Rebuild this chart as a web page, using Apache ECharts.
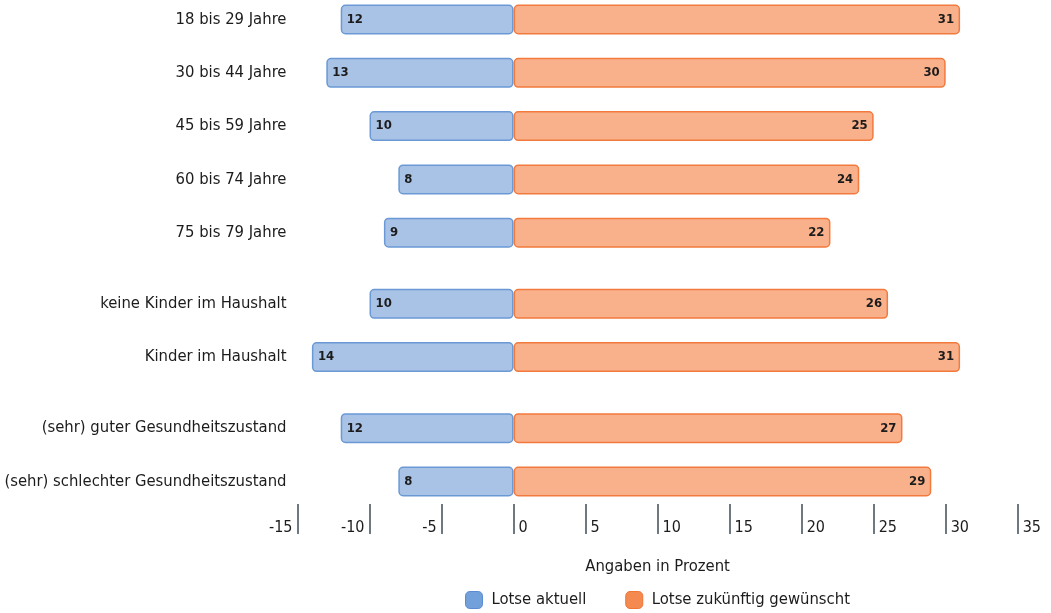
<!DOCTYPE html>
<html>
<head>
<meta charset="utf-8">
<script src="https://cdn.jsdelivr.net/npm/echarts@6/dist/echarts.min.js"></script>
<style>
  html, body { margin: 0; padding: 0; background: #ffffff; }
  #chart { width: 1051px; height: 613px; }
</style>
</head>
<body>
<div id="chart"></div>
<script>
// Row groups, drawn top to bottom with a small gap between groups
const ageGroups = ['18 bis 29 Jahre', '30 bis 44 Jahre', '45 bis 59 Jahre', '60 bis 74 Jahre', '75 bis 79 Jahre'];
const householdGroups = ['keine Kinder im Haushalt', 'Kinder im Haushalt'];
const healthGroups = ['(sehr) guter Gesundheitszustand', '(sehr) schlechter Gesundheitszustand'];

// Percentages per row (same order as the rows above)
const lotseAktuell = [12, 13, 10, 8, 9, 10, 14, 12, 8];
const lotseZukuenftig = [31, 30, 25, 24, 22, 26, 31, 27, 29];

// Value axis range
const axisMin = -15;
const axisMax = 35;
const axisStep = 5;

const FONT = '"DejaVu Sans Condensed", "Liberation Sans Narrow", "Noto Sans", sans-serif';
const TEXT = '#1c1c1c';

// Each row takes three category slots; one extra slot separates the groups.
const SPACER = '__spacer';
const slots = [];
const rowSlot = [];
[ageGroups, householdGroups, healthGroups].forEach((group, gi) => {
  if (gi > 0) slots.push(SPACER + slots.length);
  group.forEach(name => {
    if (slots.length > 0) {
      slots.push(SPACER + slots.length);
      slots.push(SPACER + slots.length);
    }
    rowSlot.push(slots.length);
    slots.push(name);
  });
});

function toSlots(values, sign) {
  const out = slots.map(() => '-');
  values.forEach((v, i) => { out[rowSlot[i]] = sign * v; });
  return out;
}

const chart = echarts.init(document.getElementById('chart'), null, { renderer: 'canvas' });

const sharedX = {
  type: 'value',
  min: axisMin,
  max: axisMax,
  interval: axisStep,
  position: 'bottom',
  offset: 13.6,
  axisLine: { show: false },
  splitLine: { show: false }
};

chart.setOption({
  animation: false,
  textStyle: { fontFamily: FONT },
  grid: { left: 297.5, right: 33.3, top: 10.6, height: 479.8 },
  xAxis: [
    Object.assign({}, sharedX, {
      axisTick: { show: true, inside: false, length: 30, lineStyle: { color: '#6d7880', width: 2 } },
      axisLabel: {
        formatter: v => (v >= 0 ? String(v) : ''),
        align: 'left',
        verticalAlign: 'middle',
        margin: 24,
        padding: [0, 0, 0, 5],
        fontSize: 16,
        color: TEXT,
        fontFamily: FONT
      },
      name: 'Angaben in Prozent',
      nameLocation: 'middle',
      nameGap: 54,
      nameTextStyle: { fontSize: 16.5, color: TEXT, fontFamily: FONT }
    }),
    Object.assign({}, sharedX, {
      axisTick: { show: false },
      axisLabel: {
        formatter: v => (v < 0 ? String(v) : ''),
        align: 'right',
        verticalAlign: 'middle',
        margin: 24,
        padding: [0, 5, 0, 0],
        fontSize: 16,
        color: TEXT,
        fontFamily: FONT
      }
    })
  ],
  yAxis: {
    type: 'category',
    inverse: true,
    data: slots,
    axisLine: { show: false },
    axisTick: { show: false },
    splitLine: { show: false },
    axisLabel: {
      interval: 0,
      margin: 11,
      fontSize: 16.5,
      color: TEXT,
      fontFamily: FONT,
      formatter: v => (v.indexOf(SPACER) === 0 ? '' : v)
    }
  },
  legend: {
    left: 465,
    top: 591,
    padding: 0,
    itemWidth: 17,
    itemHeight: 17,
    itemGap: 39,
    icon: 'roundRect',
    textStyle: { fontSize: 16.5, color: TEXT, fontFamily: FONT, padding: [0, 0, 0, 4] },
    data: [
      { name: 'Lotse aktuell', itemStyle: { color: '#72a0da', borderColor: '#5a8bcf', borderWidth: 1 } },
      { name: 'Lotse zukünftig gewünscht', itemStyle: { color: '#f48a50', borderColor: '#ef7536', borderWidth: 1 } }
    ]
  },
  series: [
    {
      name: 'Lotse aktuell',
      type: 'bar',
      stack: 'rows',
      xAxisIndex: 0,
      barWidth: 30,
      clip: false,
      data: toSlots(lotseAktuell, -1),
      itemStyle: { color: '#a9c3e6', borderColor: '#6a99d6', borderWidth: 1.5, borderRadius: 4 },
      label: {
        show: true,
        position: 'insideLeft',
        distance: 6,
        formatter: p => Math.abs(p.value),
        fontSize: 13,
        fontWeight: 'bold',
        color: TEXT,
        fontFamily: FONT
      }
    },
    {
      name: 'Lotse zukünftig gewünscht',
      type: 'bar',
      stack: 'rows',
      xAxisIndex: 0,
      barWidth: 30,
      clip: false,
      data: toSlots(lotseZukuenftig, 1),
      itemStyle: { color: '#f9b18b', borderColor: '#f27a3e', borderWidth: 1.5, borderRadius: 4 },
      label: {
        show: true,
        position: 'insideRight',
        distance: 6,
        formatter: p => p.value,
        fontSize: 13,
        fontWeight: 'bold',
        color: TEXT,
        fontFamily: FONT
      }
    }
  ]
});
</script>
</body>
</html>
